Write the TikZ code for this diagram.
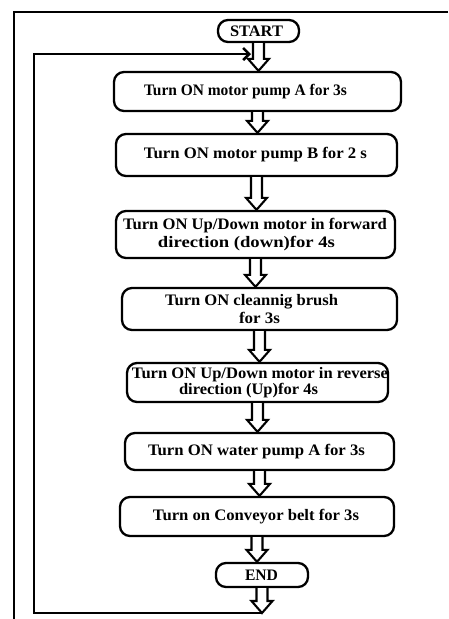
\documentclass[tikz,border=0pt]{standalone}
\usepackage{fontspec}
\setmainfont{Liberation Serif}
\usepackage{graphicx}
\usetikzlibrary{calc,arrows.meta}
% shifted, width-fitted text line
\newcommand\sh[3]{\hspace*{#1pt}\resizebox{#2pt}{\height}{#3}\hspace*{-#1pt}}
% hollow block arrow from point #1 down to point #2
\newcommand\barrow[2]{\draw[barrowline] let \p1=(#1), \p2=(#2) in
  (\x1-5.5pt,\y1) -- (\x1-5.5pt,\y2+12pt) -- (\x1-10.5pt,\y2+12pt) -- (\x1,\y2)
  -- (\x1+10.5pt,\y2+12pt) -- (\x1+5.5pt,\y2+12pt) -- (\x1+5.5pt,\y1);}
\begin{document}
\begin{tikzpicture}[x=1pt,y=-1pt,
  box/.style={draw, line width=2.3pt, rounded corners=10pt, align=center,
    inner sep=0pt, font=\bfseries\fontsize{16}{17}\selectfont},
  barrowline/.style={draw, line width=2.1pt, fill=white, line join=miter},
  loopline/.style={line width=2.6pt},
  frameline/.style={line width=1.6pt}]
\useasboundingbox (0,0) rectangle (448,619);
% outer frame
\coordinate (fr1) at (448,12);
\coordinate (fr2) at (14,12);
\coordinate (fr3) at (14,619);
\draw[frameline] (fr1) -- (fr2) -- (fr3);
% boxes
\node[box, minimum width=81pt, minimum height=22pt] (start) at (258.5,31) {\sh{-2}{53}{START}};
\node[box, minimum width=287pt, minimum height=39pt] (A) at (257.5,91.5) {\sh{-12}{203}{Turn ON motor pump A for 3s}};
\node[box, minimum width=281pt, minimum height=42pt] (B) at (256.5,155) {\sh{-1}{223}{Turn ON motor pump B for 2 s}};
\node[box, minimum width=279pt, minimum height=47pt, font=\bfseries\fontsize{16}{18}\selectfont] (C) at (255.5,234.5)
  {\sh{-0.5}{264}{Turn ON Up/Down motor in forward}\\\sh{-9}{177}{direction (down)for 4s}};
\node[box, minimum width=275pt, minimum height=42pt, font=\bfseries\fontsize{16}{17.5}\selectfont] (D) at (259.5,309)
  {\sh{-8}{173}{Turn ON cleannig brush}\\\sh{0}{41}{for 3s}};
\node[box, minimum width=261pt, minimum height=39pt, font=\bfseries\fontsize{16}{14}\selectfont] (E) at (257.5,382.5)
  {\sh{2.5}{256}{Turn ON Up/Down motor in reverse}\\\sh{-9}{139}{direction (Up)for 4s}};
\node[box, minimum width=269pt, minimum height=37pt] (F) at (259.5,451.5) {\sh{-3}{217}{Turn ON water pump A for 3s}};
\node[box, minimum width=274pt, minimum height=39pt] (G) at (257,516.5) {\sh{-1}{206}{Turn on Conveyor belt for 3s}};
\node[box, minimum width=92pt, minimum height=24pt] (end) at (262,575) {\sh{-0.5}{33}{END}};
% loop back
\coordinate (endtip) at (262,613);
\coordinate (lc) at (34,54);
\coordinate (looptip) at (251,54);
\draw[loopline, -{Straight Barb[length=6pt,width=12pt]}] (endtip) -| (lc) -- (looptip);
% block arrows
\barrow{start.south}{A.north}
\barrow{A.south}{B.north}
\barrow{B.south}{C.north}
\barrow{C.south}{D.north}
\barrow{D.south}{E.north}
\barrow{E.south}{F.north}
\barrow{F.south}{G.north}
\barrow{G.south}{end.north}
\barrow{end.south}{endtip}
\end{tikzpicture}
\end{document}
